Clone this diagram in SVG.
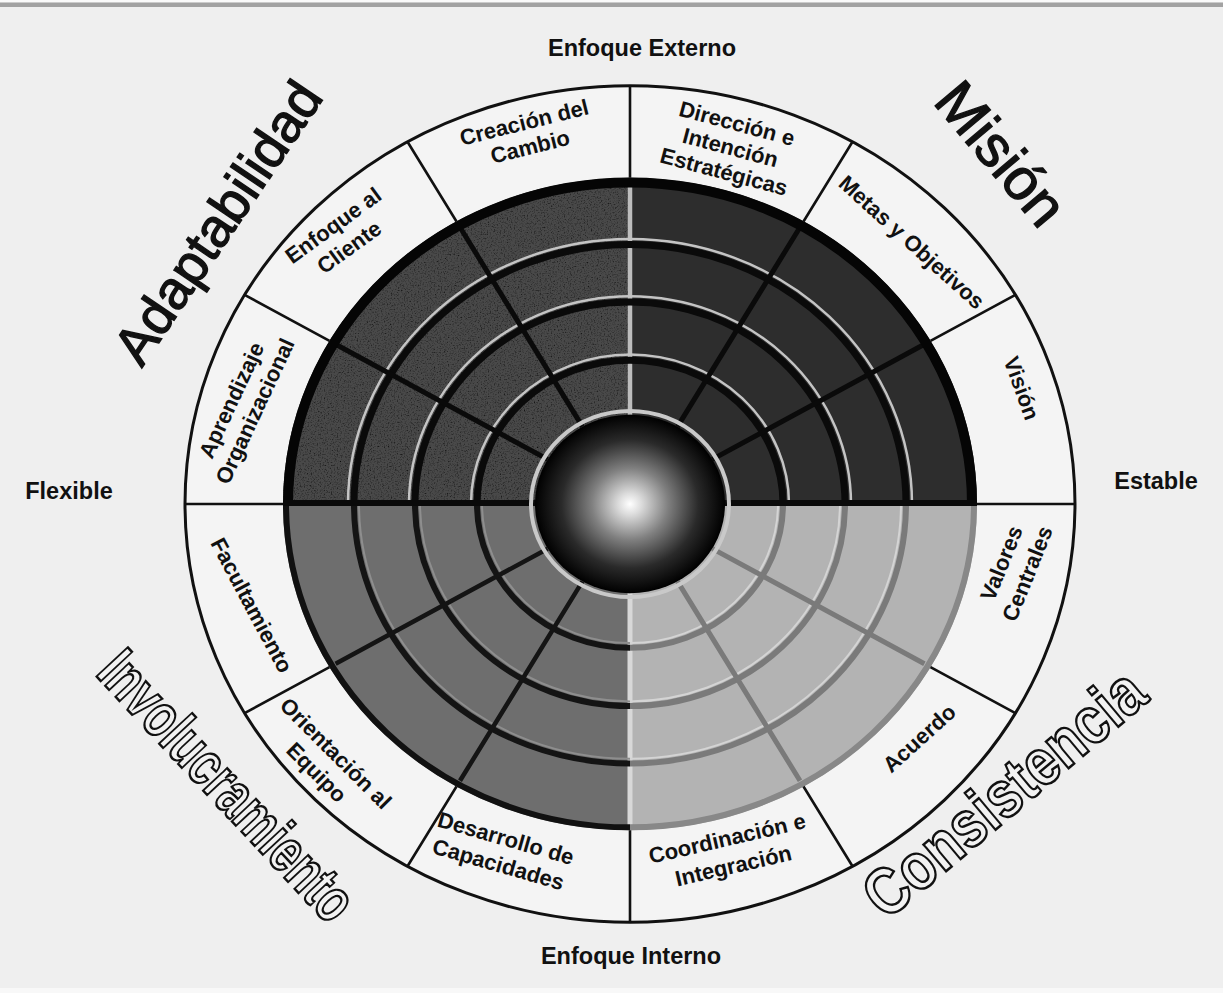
<svg xmlns="http://www.w3.org/2000/svg" width="1223" height="993" viewBox="0 0 1223 993">
<defs>
<radialGradient id="sphere" cx="0.5" cy="0.5" r="0.5">
<stop offset="0" stop-color="#ffffff"/>
<stop offset="0.12" stop-color="#dcdcdc"/>
<stop offset="0.4" stop-color="#808080"/>
<stop offset="0.72" stop-color="#2a2a2a"/>
<stop offset="1" stop-color="#000000"/>
</radialGradient>
<filter id="grain" x="-5%" y="-5%" width="110%" height="110%">
<feTurbulence type="fractalNoise" baseFrequency="0.7" numOctaves="2" seed="4" result="n"/>
<feColorMatrix in="n" type="matrix" values="0 0 0 0 0  0 0 0 0 0  0 0 0 0 0  2.2 0 0 0 -1.05" result="a"/>
<feComposite in="a" in2="SourceGraphic" operator="in" result="d"/>
<feMerge><feMergeNode in="SourceGraphic"/><feMergeNode in="d"/></feMerge>
</filter>
<style>
.lbl{font-family:"Liberation Sans",Arial,sans-serif;font-weight:bold;font-size:22px;fill:#111;text-anchor:middle}
.axis{font-family:"Liberation Sans",Arial,sans-serif;font-weight:bold;font-size:23.5px;fill:#111;text-anchor:middle}
.big{font-family:"Liberation Sans",Arial,sans-serif;fill:#111;stroke:#111;stroke-width:1.3;text-anchor:middle}
.outl{font-family:"Liberation Sans",Arial,sans-serif;font-weight:bold;fill:#f2f2f2;stroke:#111;stroke-width:2.5;text-anchor:middle}
.ns{vector-effect:non-scaling-stroke;fill:none}
.div{vector-effect:non-scaling-stroke;stroke:#111;stroke-width:2.6;fill:none}
.tArc{vector-effect:non-scaling-stroke;fill:none;stroke:#0a0a0a;stroke-width:7}
.tHi{vector-effect:non-scaling-stroke;fill:none;stroke:#c4c4c4;stroke-width:2.5}
.tRad{vector-effect:non-scaling-stroke;fill:none;stroke:#0a0a0a;stroke-width:5}
.blArc{vector-effect:non-scaling-stroke;fill:none;stroke:#141414;stroke-width:6}
.blHi{vector-effect:non-scaling-stroke;fill:none;stroke:#8e8e8e;stroke-width:2}
.brArc{vector-effect:non-scaling-stroke;fill:none;stroke:#7a7a7a;stroke-width:6}
.brHi{vector-effect:non-scaling-stroke;fill:none;stroke:#d4d4d4;stroke-width:2}
</style>
</defs>
<rect x="0" y="0" width="1223" height="993" fill="#efefef"/>
<rect x="0" y="0" width="1223" height="2.5" fill="#fafafa"/>
<rect x="0" y="2.5" width="1223" height="4.5" fill="#a2a2a2"/>
<rect x="0" y="988" width="1223" height="5" fill="#f8f8f8"/>

<g id="wheel" transform="translate(630,504) scale(1,0.94)">
<circle cx="0" cy="0" r="445" fill="#f4f4f4" stroke="#111" stroke-width="3" vector-effect="non-scaling-stroke"/>
<path id="q-adaptabilidad" d="M0,0 L-347,0 A347,347 0 0 1 0,-347 Z" fill="#484848" filter="url(#grain)"/>
<path id="q-mision" d="M0,0 L0,-347 A347,347 0 0 1 347,0 Z" fill="#2d2d2d"/>
<path id="q-consistencia" d="M0,0 L347,0 A347,347 0 0 1 0,347 Z" fill="#b3b3b3"/>
<path id="q-involucramiento" d="M0,0 L0,347 A347,347 0 0 1 -347,0 Z" fill="#6e6e6e"/>
<line class="ns" x1="0" y1="-95" x2="0" y2="-340" stroke="#bdbdbd" stroke-width="4.5"/>
<line class="ns" x1="0" y1="95" x2="0" y2="342" stroke="#d8d8d8" stroke-width="5"/>
<path class="tHi" d="M-282,0 A282,282 0 0 1 282,0 M-221,0 A221,221 0 0 1 221,0 M-159,0 A159,159 0 0 1 159,0"/>
<path class="tArc" d="M-276,0 A276,276 0 0 1 276,0 M-215,0 A215,215 0 0 1 215,0 M-153,0 A153,153 0 0 1 153,0"/>
<path class="tRad" d="M82.3,-47.5 L294.4,-170 M47.5,-82.3 L170,-294.4 M-47.5,-82.3 L-170,-294.4 M-82.3,-47.5 L-294.4,-170"/>
<path class="ns" d="M-342,0 A342,342 0 0 1 342,0" stroke="#050505" stroke-width="10"/>
<path class="blHi" d="M0,271 A271,271 0 0 1 -271,0 M0,210 A210,210 0 0 1 -210,0 M0,148 A148,148 0 0 1 -148,0"/>
<path class="blArc" d="M0,276 A276,276 0 0 1 -276,0 M0,215 A215,215 0 0 1 -215,0 M0,153 A153,153 0 0 1 -153,0"/>
<path class="blArc" d="M-82.3,47.5 L-294.4,170 M-47.5,82.3 L-170,294.4" style="stroke-width:4.5"/>
<path class="ns" d="M0,344 A344,344 0 0 1 -344,0" stroke="#111" stroke-width="6"/>
<path class="brHi" d="M271,0 A271,271 0 0 1 0,271 M210,0 A210,210 0 0 1 0,210 M148,0 A148,148 0 0 1 0,148"/>
<path class="brArc" d="M276,0 A276,276 0 0 1 0,276 M215,0 A215,215 0 0 1 0,215 M153,0 A153,153 0 0 1 0,153"/>
<path class="brArc" d="M82.3,47.5 L294.4,170 M47.5,82.3 L170,294.4" style="stroke-width:5"/>
<path class="ns" d="M344,0 A344,344 0 0 1 0,344" stroke="#888" stroke-width="6"/>
<line class="ns" x1="-347" y1="-1" x2="347" y2="-1" stroke="#0a0a0a" stroke-width="6"/>
<circle cx="0" cy="0" r="99" fill="none" stroke="#c9c9c9" stroke-width="4" vector-effect="non-scaling-stroke"/>
<circle id="core" cx="0" cy="0" r="95" fill="url(#sphere)"/>
<g id="connectors">
<path class="div" d="M300.5,-173.5 L385.4,-222.5 M173.5,-300.5 L222.5,-385.4 M-173.5,-300.5 L-222.5,-385.4 M-300.5,-173.5 L-385.4,-222.5 M-300.5,173.5 L-385.4,222.5 M-173.5,300.5 L-222.5,385.4 M173.5,300.5 L222.5,385.4 M300.5,173.5 L385.4,222.5 M347,0 L445,0 M-347,0 L-445,0 M0,-347 L0,-445 M0,347 L0,445"/>
</g>
</g>

<text class="axis" x="642" y="55.5">Enfoque Externo</text>
<text class="axis" x="631" y="963.5">Enfoque Interno</text>
<text class="axis" x="69" y="498.5">Flexible</text>
<text class="axis" x="1156" y="488.5">Estable</text>

<g id="t-adaptabilidad"><text class="big" font-size="54" transform="translate(217,222) rotate(-56)" y="19.5">Adaptabilidad</text></g>
<g id="t-mision"><text class="big" font-size="58" transform="translate(1002,153) rotate(50)" y="21">Misión</text></g>
<g id="t-involucramiento"><text class="outl" font-size="62" transform="translate(228,785) rotate(47)" y="22" textLength="344" lengthAdjust="spacingAndGlyphs">Involucramiento</text></g>
<g id="t-consistencia"><text class="outl" font-size="66" transform="translate(1003,792) rotate(-40)" y="24" textLength="345" lengthAdjust="spacingAndGlyphs">Consistencia</text></g>

<g id="n-creacion" transform="translate(524,122) rotate(-14)"><text class="lbl" y="8">Creación del</text><text class="lbl" y="33">Cambio</text></g>
<g id="n-cliente" transform="translate(333,225) rotate(-36)"><text class="lbl" y="8">Enfoque al</text><text class="lbl" y="35">Cliente</text></g>
<g id="n-aprendizaje" transform="translate(231,400) rotate(-65)"><text class="lbl" y="8">Aprendizaje</text><text class="lbl" y="34">Organizacional</text></g>
<g id="n-direccion" transform="translate(737,123) rotate(15)"><text class="lbl" y="8">Dirección e</text><text class="lbl" y="33">Intención</text><text class="lbl" y="58">Estratégicas</text></g>
<g id="n-metas" transform="translate(912,242) rotate(42)"><text class="lbl" y="8">Metas y Objetivos</text></g>
<g id="n-vision" transform="translate(1022,388) rotate(70)"><text class="lbl" y="8">Visión</text></g>
<g id="n-facultamiento" transform="translate(252,605) rotate(62)"><text class="lbl" y="8">Facultamiento</text></g>
<g id="n-equipo" transform="translate(336,753) rotate(45)"><text class="lbl" y="8">Orientación al</text><text class="lbl" y="35">Equipo</text></g>
<g id="n-capacidades" transform="translate(506,838) rotate(16)"><text class="lbl" y="8">Desarrollo de</text><text class="lbl" y="35">Capacidades</text></g>
<g id="n-coordinacion" transform="translate(727,838) rotate(-13)"><text class="lbl" y="8">Coordinación e</text><text class="lbl" y="36">Integración</text></g>
<g id="n-acuerdo" transform="translate(919,738) rotate(-42)"><text class="lbl" y="8">Acuerdo</text></g>
<g id="n-valores" transform="translate(1001,563) rotate(-68)"><text class="lbl" y="8">Valores</text><text class="lbl" y="36">Centrales</text></g>
</svg>
